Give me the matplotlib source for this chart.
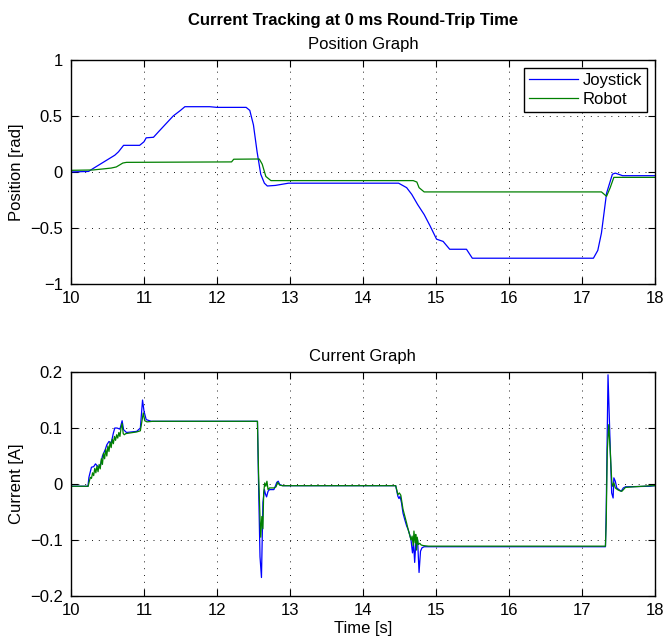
import matplotlib
matplotlib.use('Agg')
import matplotlib.pyplot as plt
from matplotlib.ticker import FuncFormatter

plt.rcParams.update({
    'font.family': 'Liberation Sans',
    'font.size': 12,
    'axes.linewidth': 1.0,
    'xtick.direction': 'in',
    'ytick.direction': 'in',
    'xtick.top': True,
    'ytick.right': True,
    'xtick.major.size': 5,
    'ytick.major.size': 5,
    'xtick.major.pad': 5,
    'ytick.major.pad': 6,
})

COLOUR_JOY = '#0000FF'
COLOUR_ROB = '#008000'

# ---------------------------------------------------------------------------
# Position graph data (time [s], position [rad])
# ---------------------------------------------------------------------------
t_pos_joy = [10.0, 10.24, 10.3, 10.4, 10.5, 10.6, 10.65, 10.72, 10.94, 11.0,
             11.03, 11.13, 11.2, 11.3, 11.4, 11.5, 11.56, 11.9, 12.0, 12.4,
             12.45, 12.5, 12.55, 12.6, 12.65, 12.69, 12.8, 12.98, 14.49, 14.6,
             14.67, 14.75, 14.84, 14.92, 15.01, 15.1, 15.19, 15.42, 15.5, 17.16,
             17.22, 17.27, 17.34, 17.42, 17.46, 17.56, 18.0]
pos_joy = [0.0, 0.005, 0.03, 0.07, 0.11, 0.15, 0.18, 0.238, 0.238, 0.27,
           0.305, 0.31, 0.36, 0.43, 0.50, 0.55, 0.583, 0.583, 0.577, 0.577,
           0.55, 0.42, 0.18, -0.02, -0.10, -0.125, -0.12, -0.10, -0.10, -0.14,
           -0.2, -0.29, -0.38, -0.48, -0.6, -0.62, -0.69, -0.69, -0.77, -0.77,
           -0.70, -0.545, -0.19, -0.02, -0.01, -0.033, -0.033]

t_pos_rob = [10.0, 10.3, 10.45, 10.55, 10.62, 10.71, 10.76, 12.2, 12.23, 12.58,
             12.62, 12.67, 12.74, 14.69, 14.74, 14.77, 14.84, 17.27, 17.34, 17.39,
             17.44, 18.0]
pos_rob = [0.015, 0.018, 0.028, 0.035, 0.045, 0.08, 0.086, 0.09, 0.114, 0.116,
           0.07, -0.04, -0.077, -0.077, -0.09, -0.14, -0.178, -0.178, -0.217, -0.14,
           -0.048, -0.048]

# ---------------------------------------------------------------------------
# Current graph data (time [s], current [A])
# ---------------------------------------------------------------------------
t_cur_joy = [10.0, 10.232, 10.245, 10.26, 10.28, 10.31, 10.335, 10.355, 10.38, 10.40,
             10.43, 10.45, 10.47, 10.49, 10.52, 10.55, 10.58, 10.60, 10.63, 10.67,
             10.70, 10.72, 10.76, 10.90, 10.95, 10.98, 11.0, 11.03, 11.1, 12.555,
             12.57, 12.59, 12.61, 12.62, 12.63, 12.65, 12.665, 12.68, 12.70, 12.72,
             12.75, 12.78, 12.80, 12.82, 12.84, 12.86, 12.9, 14.45, 14.48, 14.495,
             14.51, 14.53, 14.55, 14.575, 14.60, 14.62, 14.64, 14.66, 14.68, 14.695,
             14.71, 14.725, 14.75, 14.77, 14.79, 14.81, 14.84, 14.9, 17.325, 17.335,
             17.36, 17.39, 17.41, 17.43, 17.44, 17.46, 17.48, 17.51, 17.54, 17.57,
             17.60, 17.94, 18.0]
cur_joy = [-0.004, -0.004, 0.012, 0.02, 0.03, 0.031, 0.036, 0.033, 0.03, 0.031,
           0.05, 0.056, 0.062, 0.07, 0.076, 0.073, 0.091, 0.1, 0.1, 0.098,
           0.113, 0.097, 0.092, 0.094, 0.1, 0.15, 0.13, 0.115, 0.112, 0.112,
           0.0, -0.13, -0.167, -0.1, -0.033, -0.01, -0.018, -0.023, -0.013, -0.01,
           -0.01, -0.01, -0.004, 0.003, 0.005, -0.001, -0.003, -0.003, -0.022, -0.026,
           -0.022, -0.034, -0.052, -0.064, -0.075, -0.081, -0.09, -0.1, -0.123, -0.106,
           -0.14, -0.106, -0.1, -0.158, -0.12, -0.114, -0.112, -0.112, -0.112, -0.05,
           0.195, 0.067, -0.016, -0.025, 0.011, 0.005, -0.007, -0.01, -0.013, -0.007,
           -0.005, -0.004, -0.003]

t_cur_rob = [10.0, 10.235, 10.25, 10.265, 10.28, 10.295, 10.31, 10.325, 10.34, 10.355,
             10.37, 10.385, 10.40, 10.415, 10.43, 10.445, 10.46, 10.475, 10.49, 10.505,
             10.52, 10.535, 10.55, 10.565, 10.58, 10.595, 10.61, 10.625, 10.64, 10.655,
             10.67, 10.685, 10.70, 10.715, 10.73, 10.75, 10.80, 10.90, 10.95, 10.975,
             10.99, 11.01, 11.04, 11.12, 12.555, 12.57, 12.59, 12.60, 12.615, 12.63,
             12.64, 12.655, 12.67, 12.685, 12.70, 12.72, 12.75, 12.78, 12.81, 12.83,
             12.86, 12.9, 14.45, 14.48, 14.50, 14.52, 14.55, 14.58, 14.60, 14.62,
             14.64, 14.66, 14.675, 14.69, 14.70, 14.715, 14.725, 14.735, 14.745, 14.76,
             14.78, 14.80, 14.83, 14.9, 17.325, 17.335, 17.35, 17.37, 17.39, 17.41,
             17.42, 17.44, 17.46, 17.49, 17.52, 17.55, 17.60, 17.95, 18.0]
cur_rob = [-0.004, -0.004, 0.005, 0.012, 0.01, 0.02, 0.015, 0.028, 0.02, 0.032,
           0.022, 0.035, 0.027, 0.045, 0.035, 0.055, 0.045, 0.062, 0.05, 0.068,
           0.058, 0.075, 0.065, 0.08, 0.072, 0.085, 0.078, 0.088, 0.082, 0.092,
           0.085, 0.1, 0.108, 0.09, 0.088, 0.09, 0.091, 0.093, 0.095, 0.115,
           0.127, 0.113, 0.111, 0.112, 0.112, 0.02, -0.06, -0.095, -0.058, -0.08,
           -0.016, 0.002, -0.004, 0.005, -0.01, -0.007, -0.007, -0.007, -0.005, 0.003,
           -0.002, -0.003, -0.003, -0.019, -0.016, -0.02, -0.045, -0.06, -0.07, -0.081,
           -0.09, -0.1, -0.093, -0.11, -0.084, -0.105, -0.09, -0.118, -0.095, -0.108,
           -0.106, -0.109, -0.11, -0.111, -0.111, -0.07, 0.06, 0.106, 0.06, 0.008,
           -0.004, 0.002, -0.007, -0.01, -0.012, -0.013, -0.006, -0.003, -0.003]

x_ticks = [10, 11, 12, 13, 14, 15, 16, 17, 18]
pos_ticks = [-1, -0.5, 0, 0.5, 1]
cur_ticks = [-0.2, -0.1, 0, 0.1, 0.2]


def style_axes(ax, yticks):
    ax.set_xlim(10, 18)
    ax.set_xticks(x_ticks)
    ax.set_ylim(yticks[0], yticks[-1])
    ax.set_yticks(yticks)
    ax.yaxis.set_major_formatter(FuncFormatter(lambda v, p: f'{v:g}'.replace('-', '\u2212')))
    ax.grid(True, color='k', linewidth=0.6, linestyle=(0, (1.2, 7)))
    ax.set_axisbelow(True)


fig = plt.figure(figsize=(6.64, 6.39), dpi=100)
ax_pos = fig.add_axes([0.107, 0.5556, 0.879, 0.3505])
ax_cur = fig.add_axes([0.107, 0.0673, 0.879, 0.3505])

# --- Position graph ---
ax_pos.plot(t_pos_joy, pos_joy, color=COLOUR_JOY, linewidth=0.9, label='Joystick')
ax_pos.plot(t_pos_rob, pos_rob, color=COLOUR_ROB, linewidth=0.9, label='Robot')
style_axes(ax_pos, pos_ticks)
ax_pos.set_ylabel('Position [rad]', labelpad=4)
ax_pos.set_title('Position Graph', fontsize=12, pad=8)
leg = ax_pos.legend(loc='upper right', fancybox=False, framealpha=1,
                    edgecolor='black', borderaxespad=0.45, handlelength=2.95,
                    handletextpad=0.3, borderpad=0.3, labelspacing=0.25)
leg.get_frame().set_linewidth(1.0)

# --- Current graph ---
ax_cur.plot(t_cur_joy, cur_joy, color=COLOUR_JOY, linewidth=0.9)
ax_cur.plot(t_cur_rob, cur_rob, color=COLOUR_ROB, linewidth=0.9)
style_axes(ax_cur, cur_ticks)
ax_cur.set_ylabel('Current [A]', labelpad=4)
ax_cur.set_xlabel('Time [s]', labelpad=2)
ax_cur.set_title('Current Graph', fontsize=12, pad=8)

fig.text(0.531, 1 - 21 / 639, 'Current Tracking at 0 ms Round-Trip Time',
         ha='center', va='center', fontsize=12, fontweight='bold')

fig.savefig('out.png', dpi=100)
plt.close(fig)
